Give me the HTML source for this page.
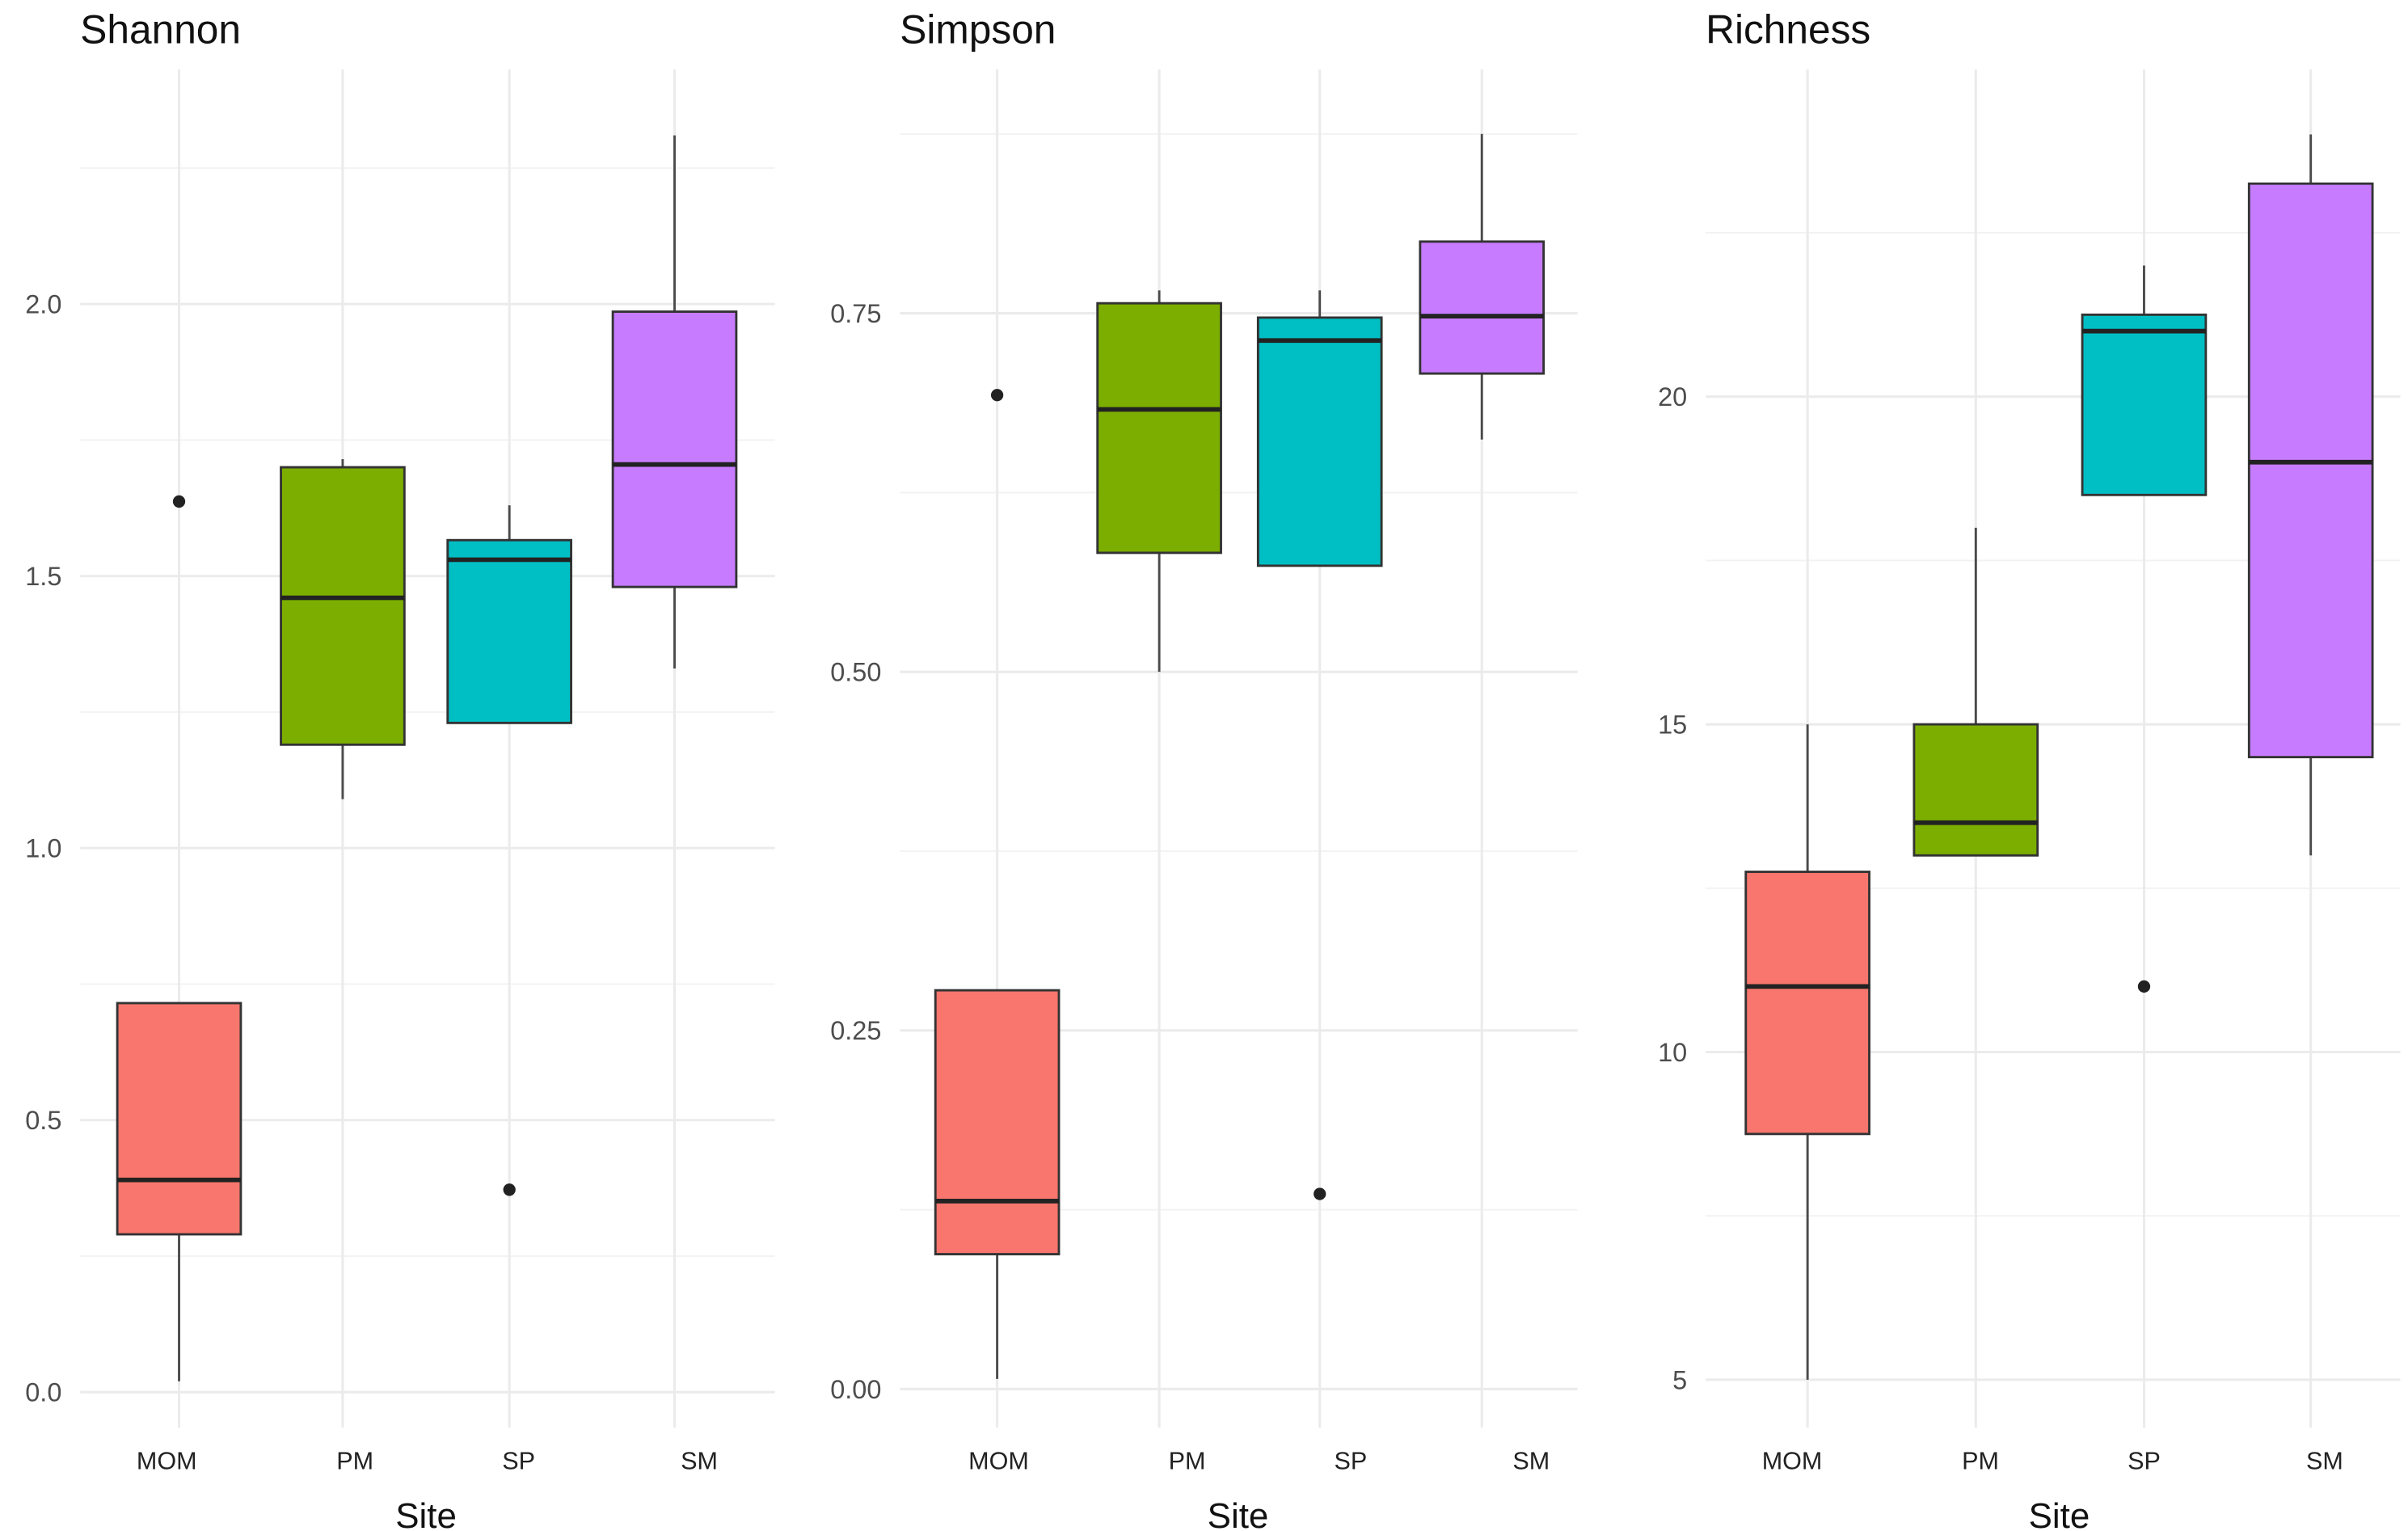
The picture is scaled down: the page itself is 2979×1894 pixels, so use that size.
<!DOCTYPE html>
<html><head><meta charset="utf-8"><style>
html,body{margin:0;padding:0;background:#fff;}
svg{display:block;}
</style></head><body>
<svg id="chart" width="2979" height="1894" viewBox="0 0 1560 992" preserveAspectRatio="none" xmlns="http://www.w3.org/2000/svg" font-family="Liberation Sans, Arial, sans-serif"></svg>
<script>
const categories = ["MOM","PM","SP","SM"];
const fills = ["#F8766D","#7CAE00","#00BFC4","#C77CFF"];
// Shannon: [lower whisker, Q1, median, Q3, upper whisker]
const shannonStats = [[0.02,0.29,0.39,0.715,0.715],[1.09,1.19,1.46,1.70,1.715],[1.23,1.23,1.53,1.566,1.63],[1.33,1.48,1.705,1.986,2.31]];
const shannonOutliers = [[0,1.637],[2,0.372]];
const shannonTicks = [0,0.5,1.0,1.5,2.0];
const shannonTickLabels = ["0.0","0.5","1.0","1.5","2.0"];
const simpsonStats = [[0.007,0.094,0.131,0.278,0.278],[0.50,0.583,0.683,0.757,0.766],[0.574,0.574,0.731,0.747,0.766],[0.662,0.708,0.748,0.80,0.875]];
const simpsonOutliers = [[0,0.693],[2,0.136]];
const simpsonTicks = [0,0.25,0.5,0.75];
const simpsonTickLabels = ["0.00","0.25","0.50","0.75"];
const richnessStats = [[5,8.75,11,12.75,15],[13,13,13.5,15,18],[18.5,18.5,21,21.25,22],[13,14.5,19,23.25,24]];
const richnessOutliers = [[2,11]];
const richnessTicks = [5,10,15,20];
const richnessTickLabels = ["5","10","15","20"];

const panels = [
 {key:"shannon",title:"Shannon",x0:52,x1:502,v0:0,y0:902,v1:2.0,y1:197,minor:[0.25,0.75,1.25,1.75,2.25],gx:[116,222,330,437],lx:[108,230,336,453],stats:shannonStats,out:shannonOutliers,ticks:shannonTicks,labels:shannonTickLabels,sitex:276},
 {key:"simpson",title:"Simpson",x0:583,x1:1022,v0:0,y0:900,v1:0.75,y1:203,minor:[0.125,0.375,0.625,0.875],gx:[646,751,855,960],lx:[647,769,875,992],stats:simpsonStats,out:simpsonOutliers,ticks:simpsonTicks,labels:simpsonTickLabels,sitex:802},
 {key:"richness",title:"Richness",x0:1105,x1:1555,v0:5,y0:894,v1:20,y1:257,minor:[7.5,12.5,17.5,22.5],gx:[1171,1280,1389,1497],lx:[1161,1283,1389,1506],stats:richnessStats,out:richnessOutliers,ticks:richnessTicks,labels:richnessTickLabels,sitex:1334}
];
const NS="http://www.w3.org/2000/svg";
const svg=document.getElementById("chart");
function mk(tag,attrs,parent){const e=document.createElementNS(NS,tag);for(const k in attrs)e.setAttribute(k,attrs[k]);(parent||svg).appendChild(e);return e;}
panels.forEach(p=>{
 const y=v=>p.y0+(v-p.v0)*(p.y1-p.y0)/(p.v1-p.v0);
 const g=mk("g",{});
 
 
 p.minor.forEach(v=>{const l=mk("line",{x1:p.x0,x2:p.x1,y1:y(v),y2:y(v),stroke:"#f2f2f2","stroke-width":1},g);
  
  });
 p.ticks.forEach((v,i)=>{const l=mk("line",{x1:p.x0,x2:p.x1,y1:y(v),y2:y(v),stroke:"#ebebeb","stroke-width":1.6},g);
  
  
  const t=mk("text",{x:p.x0-12,y:y(v)+6,"text-anchor":"end","font-size":17,fill:"#4d4d4d"},g);t.textContent=p.labels[i];
  
  });
 p.gx.forEach(x=>{const l=mk("line",{x1:x,x2:x,y1:45,y2:925,stroke:"#ebebeb","stroke-width":1.6},g);
  
  });
 const hw=40;
 p.stats.forEach((s,i)=>{const cx=p.gx[i];
  const w=mk("line",{x1:cx,x2:cx,y1:y(s[0]),y2:y(s[4]),stroke:"#4a4a4a","stroke-width":1.5},g);
  
  
  const r=mk("rect",{x:cx-hw,y:y(s[3]),width:2*hw,height:y(s[1])-y(s[3]),fill:fills[i],stroke:"#333","stroke-width":1.5},g);
  
  
  const m=mk("line",{x1:cx-hw,x2:cx+hw,y1:y(s[2]),y2:y(s[2]),stroke:"#222","stroke-width":3},g);
  
  
  const t=mk("text",{x:p.lx[i],y:952,"text-anchor":"middle","font-size":16,fill:"#222"},g);t.textContent=categories[i];
  
  });
 p.out.forEach(o=>{const c=mk("circle",{cx:p.gx[o[0]],cy:y(o[1]),r:4,fill:"#222"},g);
  
  });
 const tt=mk("text",{x:p.x0,y:28,"font-size":26,fill:"#111"},g);tt.textContent=p.title;
 
 
 const xt=mk("text",{x:p.sitex,y:990,"text-anchor":"middle","font-size":23,fill:"#111"},g);xt.textContent="Site";
 
 
});
</script>
</body></html>
